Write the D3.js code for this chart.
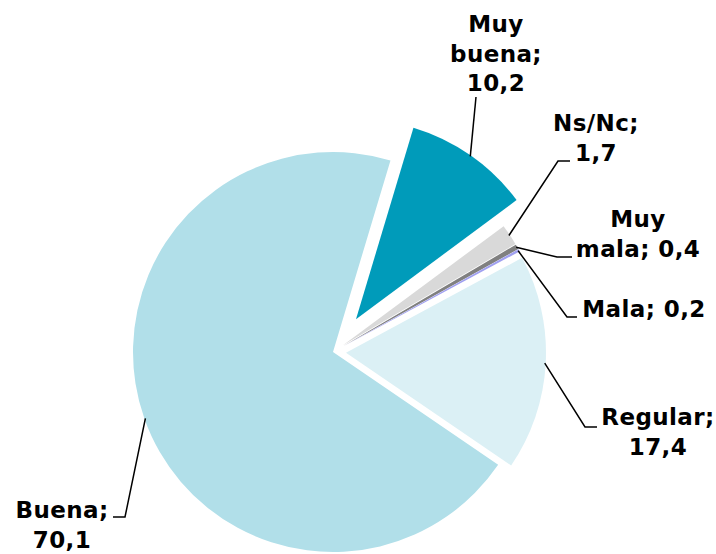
<!DOCTYPE html>
<html>
<head>
	<meta charset="utf-8" />
	<title>Valoración</title>
	<script src="https://d3js.org/d3.v7.min.js"></script>
	<style>
		body { margin: 0; background: #fff; }
		text {
			font-family: 'DejaVu Sans', Verdana, sans-serif;
			font-weight: bold;
			font-size: 23px;
			letter-spacing: 0.4px;
			fill: #000;
		}
		.leader { fill: none; stroke: #000; stroke-width: 1.5px; }
	</style>
</head>
<body>
	<script>
		// data
		var categories = ["Muy buena", "Ns/Nc", "Muy mala", "Mala", "Regular", "Buena"];
		var values = [10.2, 1.7, 0.4, 0.2, 17.4, 70.1];
		var colors = ["#009bba", "#d9d9d9", "#808080", "#a0a0f0", "#dbf0f5", "#b1dfe9"];
		// how far each slice is pulled out
		var explode = [40, 12, 12, 12, 13, 0];

		var width = 716, height = 554;
		var cx = 333, cy = 352, radius = 200;
		var lineH = 29.5;

		// label layout: text centre x, first baseline y, and leader path after it leaves the pie
		var labelLayout = {
			"Muy buena": { x: 496, y: 32, lines: ["Muy", "buena;", "10,2"], path: [[476, 97]] },
			"Ns/Nc": { x: 596, y: 131, lines: ["Ns/Nc;", "1,7"], path: [[558, 161], [570, 161]] },
			"Muy mala": { x: 638, y: 227, lines: ["Muy", "mala; 0,4"], path: [[557, 257], [572, 257]] },
			"Mala": { x: 644, y: 317, lines: ["Mala; 0,2"], path: [[567, 317], [577, 317]] },
			"Regular": { x: 658, y: 425, lines: ["Regular;", "17,4"], path: [[585, 427], [597, 427]] },
			"Buena": { x: 62, y: 518, lines: ["Buena;", "70,1"], path: [[125, 517], [113, 517]] }
		};

		var svg = d3.select("body").append("svg")
			.attr("width", width)
			.attr("height", height);

		var data = categories.map(function(c, i) { return { name: c, value: values[i], i: i }; });

		var start = 16.7 * Math.PI / 180;
		var pie = d3.pie()
			.sort(null)
			.value(function(d) { return d.value; })
			.startAngle(start)
			.endAngle(start + 2 * Math.PI);

		var arc = d3.arc().innerRadius(0).outerRadius(radius);
		var arcs = pie(data);

		function offset(d) {
			var a = (d.startAngle + d.endAngle) / 2;
			var e = explode[d.data.i];
			return [Math.sin(a) * e, -Math.cos(a) * e];
		}

		var g = svg.append("g").attr("transform", "translate(" + cx + "," + cy + ")");

		g.selectAll("path.slice")
			.data(arcs)
			.enter().append("path")
			.attr("class", "slice")
			.attr("transform", function(d) { var o = offset(d); return "translate(" + o[0] + "," + o[1] + ")"; })
			.attr("d", arc)
			.attr("fill", function(d) { return colors[d.data.i]; });

		// leader lines start on the slice edge at mid angle
		var line = d3.line();
		arcs.forEach(function(d) {
			var lay = labelLayout[d.data.name];
			var a = (d.startAngle + d.endAngle) / 2;
			var o = offset(d);
			var p0 = [cx + o[0] + Math.sin(a) * (radius - 1), cy + o[1] - Math.cos(a) * (radius - 1)];
			svg.append("path")
				.attr("class", "leader")
				.attr("d", line([p0].concat(lay.path)));

			var t = svg.append("text")
				.attr("text-anchor", "middle");
			lay.lines.forEach(function(s, k) {
				t.append("tspan")
					.attr("x", lay.x)
					.attr("y", lay.y + k * lineH)
					.text(s);
			});
		});
	</script>
</body>
</html>
